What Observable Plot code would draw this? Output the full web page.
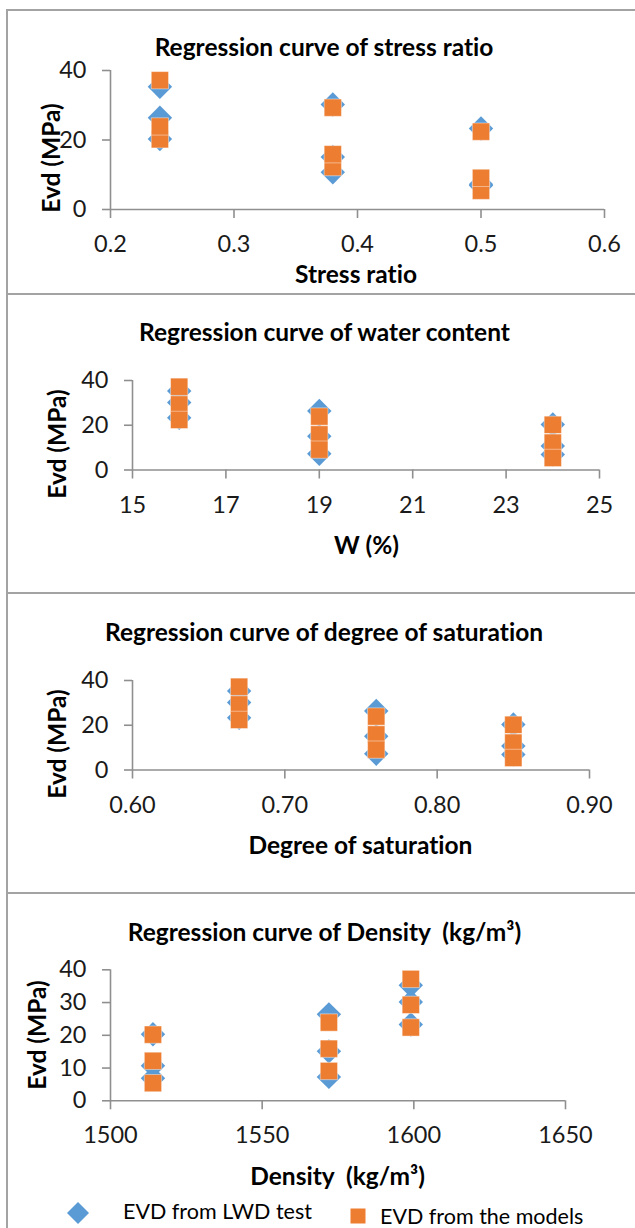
<!DOCTYPE html>
<html><head><meta charset="utf-8">
<script src="https://cdn.jsdelivr.net/npm/d3@7"></script>
<script src="https://cdn.jsdelivr.net/npm/@observablehq/plot@0.6"></script>
<style>
html,body{margin:0;padding:0;background:#fff;}
#root{position:relative;width:635px;height:1228px;overflow:hidden;font-family:Lato,"Open Sans",sans-serif;color:#000;background:#fff;font-variant-ligatures:none;}
.frame{position:absolute;left:6px;right:-10px;border-left:2px solid #a3a3a3;border-top:2px solid #a3a3a3;box-sizing:border-box;pointer-events:none;}
.plot{position:absolute;left:0;}
.lbl{position:absolute;white-space:pre;transform:translate(-50%,-50%);line-height:1;}
.bold{font-weight:700;font-size:24.5px;}
.ylab{transform:translate(-50%,-50%) rotate(-90deg);}
.leg{position:absolute;white-space:pre;line-height:1;font-size:21.5px;transform:translateY(-50%);}
svg text{font-variant-ligatures:none;}
</style></head><body><div id="root"></div>
<script>
// ---- data ----
const density      = [1514, 1514, 1514, 1572, 1572, 1572, 1599, 1599, 1599];
const waterContent = [24, 24, 24, 19, 19, 19, 16, 16, 16];
const saturation   = [0.85, 0.85, 0.85, 0.76, 0.76, 0.76, 0.67, 0.67, 0.67];
const stressRatio  = [0.24, 0.38, 0.5, 0.24, 0.38, 0.5, 0.24, 0.38, 0.5];
const evdLWD       = [20.3, 10.7, 6.9, 26.4, 15.1, 7.3, 35.3, 30.2, 23.3];
const evdModel     = [20.2, 12.2, 5.4, 23.9, 15.9, 9.1, 37.2, 29.3, 22.4];

const titles  = ["Regression curve of stress ratio", "Regression curve of water content",
                 "Regression curve of degree of saturation", "Regression curve of Density  (kg/m³)"];
const xLabels = ["Stress ratio", "W (%)", "Degree of saturation", "Density  (kg/m³)"];
const yLabel  = "Evd (MPa)";
const xTicks  = [[0.2, 0.3, 0.4, 0.5, 0.6], [15, 17, 19, 21, 23, 25], [0.6, 0.7, 0.8, 0.9], [1500, 1550, 1600, 1650]];
const yTicks  = [[0, 20, 40], [0, 20, 40], [0, 20, 40], [0, 10, 20, 30, 40]];
const legendLabels = ["EVD from LWD test", "EVD from the models"];

const data = density.map((d, i) => ({
  density: d, w: waterContent[i], sr: saturation[i], stress: stressRatio[i],
  lwd: evdLWD[i], model: evdModel[i]
}));

const BLUE = "#5B9BD5", ORANGE = "#ED7D31", AXIS = "#8f8f8f";

const panels = [
  {key: "stress",  top: 0,   height: 293, mt: 70,   mb: 84,    ml: 110, mr: 31, fmt: d => String(d),
   title: [324, 47], xl: [356, 274], yl: [51, 158]},
  {key: "w",       top: 293, height: 300, mt: 87,   mb: 123.5, ml: 132, mr: 36, fmt: d => String(d),
   title: [324.5, 332], xl: [366.5, 545], yl: [57, 444]},
  {key: "sr",      top: 593, height: 300, mt: 87,   mb: 123.5, ml: 132, mr: 46, fmt: d3.format(".2f"),
   title: [324, 632], xl: [360.5, 845], yl: [57, 744]},
  {key: "density", top: 893, height: 335, mt: 76.3, mb: 127.7, ml: 110, mr: 70, fmt: d => String(d),
   title: [324.5, 932], xl: [337.6, 1176], yl: [37, 1035]}
];

const root = document.getElementById("root");

panels.forEach((p, i) => {
  const xt = xTicks[i], yt = yTicks[i];
  const chart = Plot.plot({
    width: 635, height: p.height,
    marginTop: p.mt, marginBottom: p.mb, marginLeft: p.ml, marginRight: p.mr,
    style: {background: "transparent", fontFamily: "Lato, 'Open Sans', sans-serif", fontSize: "23.5px", color: "#1a1a1a", overflow: "visible"},
    x: {domain: [xt[0], xt[xt.length - 1]], label: null},
    y: {domain: [0, 40], label: null},
    marks: [
      Plot.ruleY([0], {stroke: AXIS, strokeWidth: 1.6}),
      Plot.ruleX([xt[0]], {stroke: AXIS, strokeWidth: 1.6}),
      Plot.axisX({ticks: xt, tickFormat: p.fmt, tickSize: 9, tickPadding: 17, stroke: AXIS, strokeWidth: 1.6, label: null}),
      Plot.axisY({ticks: yt, tickSize: 8, tickPadding: 16, stroke: AXIS, strokeWidth: 1.6, label: null}),
      Plot.dot(data, {x: p.key, y: "lwd", symbol: "diamond2", r: 11, fill: BLUE}),
      Plot.dot(data, {x: p.key, y: "model", symbol: "square2", r: 11, fill: ORANGE,
                      stroke: "#fff", strokeOpacity: 0.55, strokeWidth: 0.8})
    ]
  });
  chart.classList.add("plot");
  chart.style.top = p.top + "px";
  chart.style.position = "absolute";
  root.appendChild(chart);

  const t = document.createElement("div");
  t.className = "lbl bold"; t.textContent = titles[i];
  t.style.left = p.title[0] + "px"; t.style.top = p.title[1] + "px";
  root.appendChild(t);

  const xl = document.createElement("div");
  xl.className = "lbl bold"; xl.textContent = xLabels[i];
  xl.style.left = p.xl[0] + "px"; xl.style.top = p.xl[1] + "px";
  root.appendChild(xl);

  const yl = document.createElement("div");
  yl.className = "lbl bold ylab"; yl.textContent = yLabel;
  yl.style.left = p.yl[0] + "px"; yl.style.top = p.yl[1] + "px";
  root.appendChild(yl);

  const f = document.createElement("div");
  f.className = "frame";
  const ft = [9, 292.5, 592, 892][i];
  f.style.top = ft + "px";
  f.style.height = (i < 3 ? [292.5, 592, 892][i] - ft + 2 : 1228 - ft + 10) + "px";
  root.appendChild(f);
});

// legend
const sw1 = document.createElementNS("http://www.w3.org/2000/svg", "svg");
sw1.setAttribute("width", 24); sw1.setAttribute("height", 24);
sw1.style.cssText = "position:absolute;left:66px;top:1201px;";
sw1.innerHTML = `<polygon points="12,1 23,12 12,23 1,12" fill="${BLUE}"/>`;
root.appendChild(sw1);
const l1 = document.createElement("div");
l1.className = "leg"; l1.textContent = legendLabels[0];
l1.style.left = "123px"; l1.style.top = "1212px";
root.appendChild(l1);

const sw2 = document.createElementNS("http://www.w3.org/2000/svg", "svg");
sw2.setAttribute("width", 16); sw2.setAttribute("height", 16);
sw2.style.cssText = "position:absolute;left:350px;top:1208px;";
sw2.innerHTML = `<rect x="0.5" y="0.5" width="15" height="15" fill="${ORANGE}"/>`;
root.appendChild(sw2);
const l2 = document.createElement("div");
l2.className = "leg"; l2.textContent = legendLabels[1];
l2.style.left = "380px"; l2.style.top = "1217px";
root.appendChild(l2);
</script></body></html>
